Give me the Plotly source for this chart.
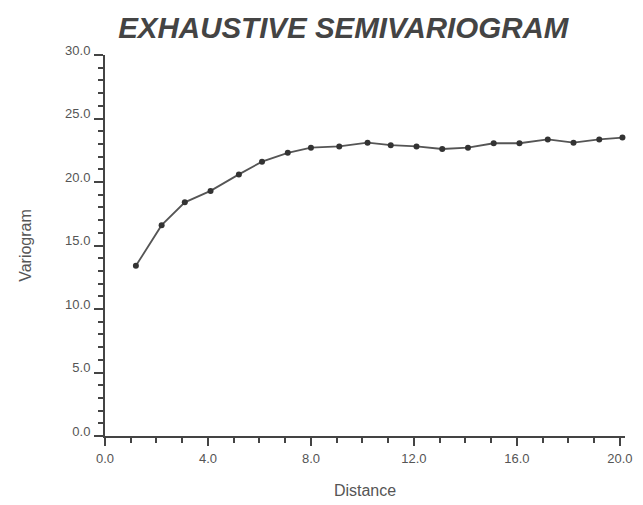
import plotly.graph_objects as go

distance = [1.2, 2.2, 3.1, 4.1, 5.2, 6.1, 7.1, 8.0, 9.1, 10.2,
            11.1, 12.1, 13.1, 14.1, 15.1, 16.1, 17.2, 18.2, 19.2, 20.1]
variogram = [13.4, 16.6, 18.4, 19.3, 20.6, 21.6, 22.3, 22.7, 22.8, 23.1,
             22.9, 22.8, 22.6, 22.7, 23.05, 23.05, 23.35, 23.1, 23.35, 23.5]
x_ticks = [0, 4, 8, 12, 16, 20]
x_tick_labels = ["0.0", "4.0", "8.0", "12.0", "16.0", "20.0"]
y_ticks = [0, 5, 10, 15, 20, 25, 30]
y_tick_labels = ["0.0", "5.0", "10.0", "15.0", "20.0", "25.0", "30.0"]

fig = go.Figure()
fig.add_trace(go.Scatter(
    x=distance, y=variogram, mode="lines+markers",
    line=dict(color="#555555", width=1.8),
    marker=dict(color="#333333", size=6),
    showlegend=False, cliponaxis=False,
))

font_family = "Liberation Sans, Arial, sans-serif"
fig.update_layout(
    width=635, height=497,
    margin=dict(l=97, r=18, t=47, b=69),
    paper_bgcolor="white", plot_bgcolor="white",
    title=dict(text="<b><i>EXHAUSTIVE SEMIVARIOGRAM</i></b>",
               x=0.528, xanchor="center", y=0.96, yanchor="middle",
               font=dict(family=font_family, size=29.5, color="#444444")),
    font=dict(family=font_family, color="#555555"),
)
fig.update_xaxes(
    range=[0, 20.2], tickvals=x_ticks, ticktext=x_tick_labels,
    showline=True, linecolor="#444444", linewidth=2,
    ticks="outside", ticklen=8, tickwidth=2, tickcolor="#444444",
    minor=dict(dtick=1, ticks="outside", ticklen=5, tickwidth=2, tickcolor="#444444"),
    showgrid=False, zeroline=False, automargin=False,
    tickfont=dict(size=13, color="#555555"),
    ticklabelstandoff=1,
    title=dict(text="Distance", font=dict(size=16, color="#555555"), standoff=20),
)
fig.update_yaxes(
    range=[0, 30], tickvals=y_ticks, ticktext=y_tick_labels,
    showline=True, linecolor="#444444", linewidth=2,
    ticks="outside", ticklen=9, tickwidth=2, tickcolor="#444444",
    minor=dict(dtick=1, ticks="outside", ticklen=5, tickwidth=2, tickcolor="#444444"),
    showgrid=False, zeroline=False, automargin=False,
    tickfont=dict(size=13, color="#555555"),
    ticklabelshift=-5, ticklabelstandoff=1,
    title=dict(text="Variogram", font=dict(size=16, color="#555555"), standoff=29),
)

fig.write_html("out.html")
